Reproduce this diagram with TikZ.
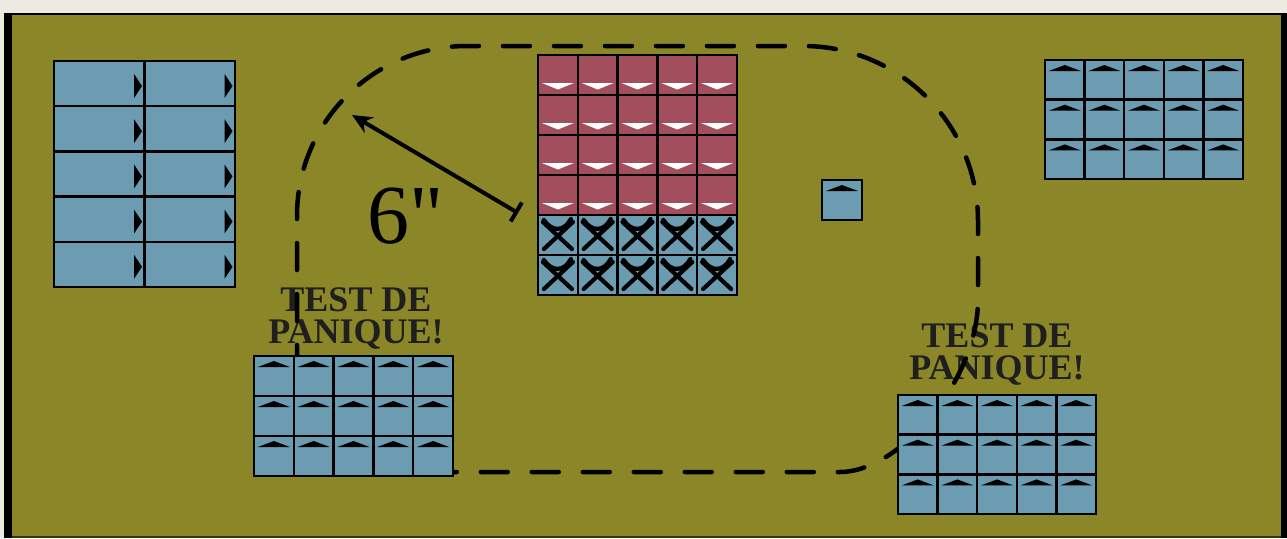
\documentclass[tikz,border=0pt]{standalone}
\usepackage{fontspec}
\setmainfont{Liberation Serif}[Ligatures=TeXOff]
\usetikzlibrary{arrows.meta}
\definecolor{paper}{HTML}{EDEAE2}
\definecolor{tablecol}{HTML}{8B8628}
\definecolor{unitblue}{HTML}{6B9CB1}
\definecolor{unitred}{HTML}{A34E5C}
\definecolor{textdark}{HTML}{1F1F1F}
\tikzset{
  gridframe/.style={draw=black, line width=2.5pt, anchor=north west, inner sep=0pt, outer sep=0pt},
  gridline/.style={draw=black, line width=2.5pt},
  uptri/.pic={\fill[black] (-16,6) -- (0,0) -- (16,6) -- cycle;},
  downtri/.pic={\fill[white] (-16,0) -- (16,0) -- (0,6.5) -- cycle;},
  righttri/.pic={\fill[black] (0,-12) -- (8,0) -- (0,12) -- cycle;},
  fallen/.pic={\draw[black, line width=4.2pt, line cap=round] (-15,-13) -- (14,14) (15,-13) -- (-14,14)
      (-14,-15) .. controls (-6,-3) and (6,-3) .. (13,-16);},
  paniclabel/.style={font=\fontsize{36}{32}\selectfont\bfseries, text=textdark, align=center, anchor=north, inner sep=0pt},
  pathline/.style={line width=4.5pt, line cap=round, dash pattern=on 27pt off 24pt, black},
}
\begin{document}
\begin{tikzpicture}[x=1pt,y=-1pt]
\useasboundingbox (0,0) rectangle (1287,538);
% background
\fill[paper] (0,0) rectangle (1287,538);
\fill[black] (4,13) rectangle (1287,538);
\fill[tablecol] (12,15) rectangle (1281,536);
\fill[black!60!tablecol] (12,536) rectangle (1281,538);

% labels
\node[paniclabel] (panicleft) at (356,287) {TEST DE\\PANIQUE!};
\node[paniclabel] (panicright) at (997,323) {TEST DE\\PANIQUE!};
\node[font=\fontsize{84}{84}\selectfont, text=black, anchor=base west, inner sep=0pt] (range) at (367,243) {6"};

% movement path
\draw[pathline] (297,372) -- (297,216) arc[start angle=180, end angle=270, radius=170]
  -- (803,46) arc[start angle=270, end angle=360, radius=175]
  -- (978,300) .. controls (978,380) and (900,472) .. (840,472)
  -- (397,472) arc[start angle=90, end angle=180, radius=100] -- cycle;

% measurement arrow
\coordinate (arrowstart) at (518,213);
\coordinate (arrowend) at (352,115);
\draw[line width=4pt, black, {Bar[width=22pt]}-{Stealth[length=20pt,width=18pt]}] (arrowstart) -- (arrowend);

% left unit (2 x 5)
\node[gridframe, fill=unitblue, minimum width=181pt, minimum height=226pt] (leftunit) at (54,61) {};
\foreach \r in {1,...,4} \draw[gridline] (54,61+\r*45.2) -- (235,61+\r*45.2);
\draw[gridline] (144.5,61) -- (144.5,287);
\foreach \c in {0,1} \foreach \r in {0,...,4} \pic at (54+\c*90.5+80, 61+\r*45.2+25) {righttri};

% centre unit (5 x 6: 4 red rows, 2 blue rows)
\fill[unitred] (538,55) rectangle (737,215);
\fill[unitblue] (538,215) rectangle (737,295);
\node[gridframe, minimum width=199pt, minimum height=240pt] (centreunit) at (538,55) {};
\foreach \r in {1,...,5} \draw[gridline] (538,55+\r*40) -- (737,55+\r*40);
\foreach \c in {1,...,4} \draw[gridline] (538+\c*39.8,55) -- (538+\c*39.8,295);
\foreach \c in {0,...,4} \foreach \r in {0,...,3} \pic at (538+\c*39.8+19.9, 55+\r*40+28) {downtri};
\foreach \c in {0,...,4} \foreach \r in {4,5} \pic at (538+\c*39.8+19.9, 55+\r*40+20) {fallen};

% top-right unit (5 x 3)
\node[gridframe, fill=unitblue, minimum width=198pt, minimum height=119pt] (toprightunit) at (1045,60) {};
\foreach \r in {1,2} \draw[gridline] (1045,60+\r*39.7) -- (1243,60+\r*39.7);
\foreach \c in {1,...,4} \draw[gridline] (1045+\c*39.6,60) -- (1045+\c*39.6,179);
\foreach \c in {0,...,4} \foreach \r in {0,1,2} \pic at (1045+\c*39.6+19.8, 60+\r*39.7+5) {uptri};

% single model
\node[gridframe, fill=unitblue, minimum width=40pt, minimum height=40pt] (single) at (822,180) {};
\pic at (842,185) {uptri};

% bottom-left unit (5 x 3)
\node[gridframe, fill=unitblue, minimum width=199pt, minimum height=120pt] (bottomleftunit) at (254,356) {};
\foreach \r in {1,2} \draw[gridline] (254,356+\r*40) -- (453,356+\r*40);
\foreach \c in {1,...,4} \draw[gridline] (254+\c*39.8,356) -- (254+\c*39.8,476);
\foreach \c in {0,...,4} \foreach \r in {0,1,2} \pic at (254+\c*39.8+19.9, 356+\r*40+5) {uptri};

% bottom-right unit (5 x 3)
\node[gridframe, fill=unitblue, minimum width=198pt, minimum height=119pt] (bottomrightunit) at (898,395) {};
\foreach \r in {1,2} \draw[gridline] (898,395+\r*39.7) -- (1096,395+\r*39.7);
\foreach \c in {1,...,4} \draw[gridline] (898+\c*39.6,395) -- (898+\c*39.6,514);
\foreach \c in {0,...,4} \foreach \r in {0,1,2} \pic at (898+\c*39.6+19.8, 395+\r*39.7+5) {uptri};
\end{tikzpicture}
\end{document}
